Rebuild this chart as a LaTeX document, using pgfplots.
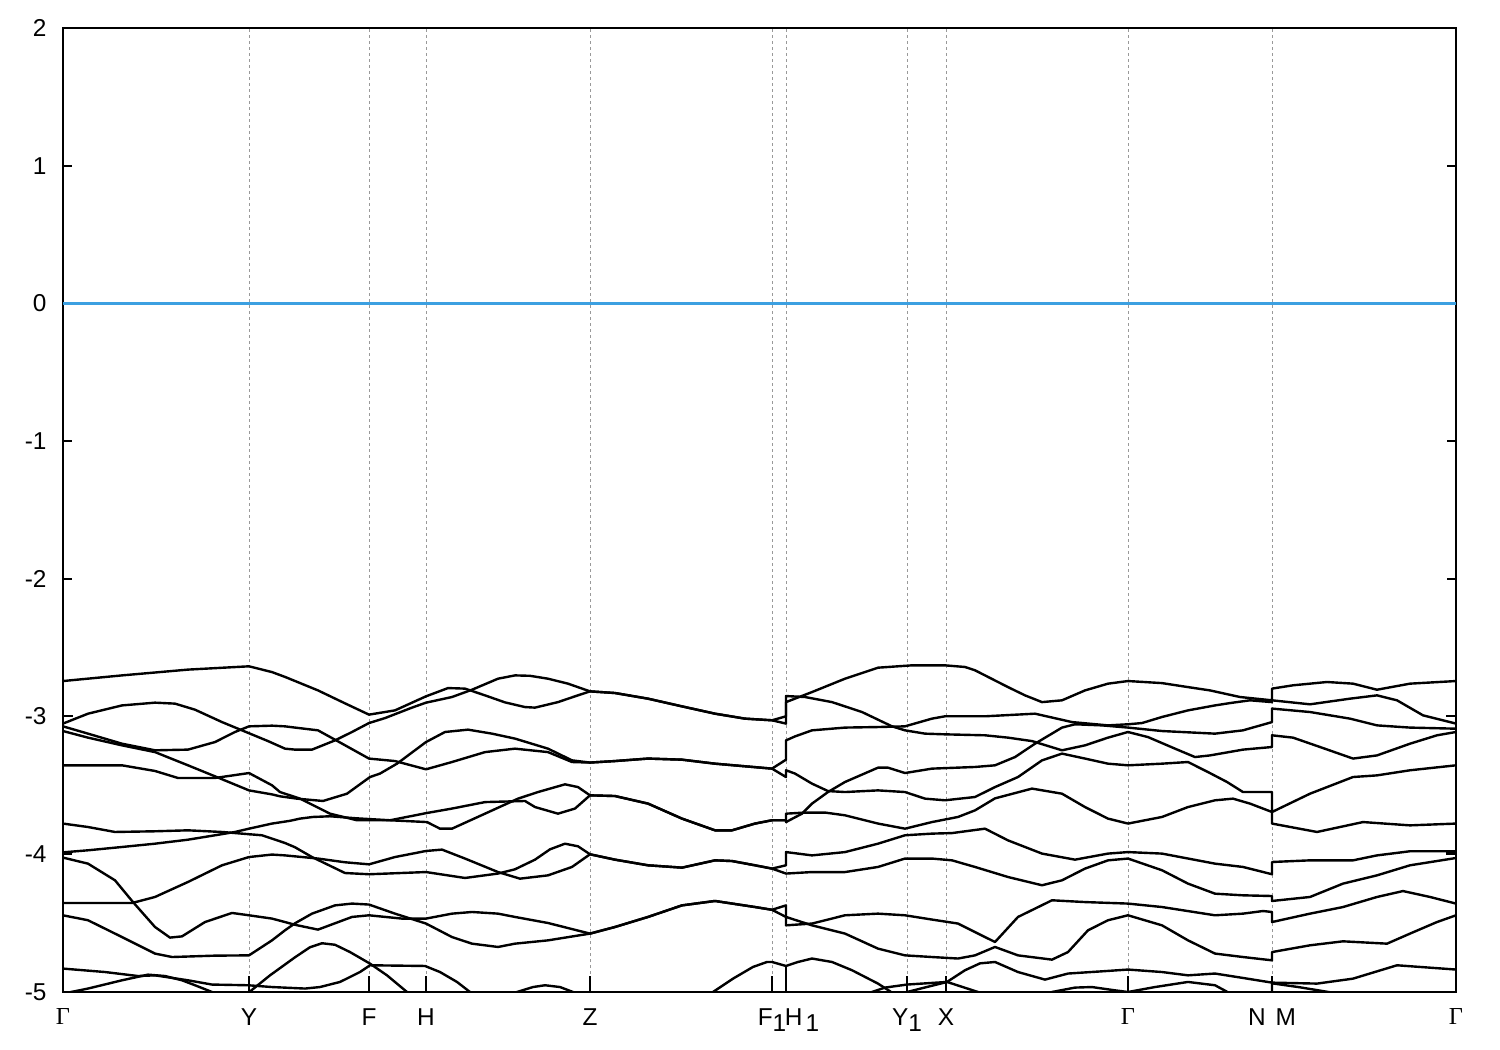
\documentclass[border=0pt]{standalone}
\usepackage{pgfplots}
\pgfplotsset{compat=1.18}
\usepackage{fontspec}
\setmainfont{Liberation Sans}
\newfontfamily\gsym{Liberation Serif}
\definecolor{efermi}{RGB}{60,160,225}
\newcommand{\sub}[1]{\raisebox{-3pt}{#1}}
\begin{document}
\fontsize{12.2}{14}\selectfont
\begin{tikzpicture}
\begin{axis}[
  scale only axis, width=696.5pt, height=482pt,
  xmin=0, xmax=1393, ymin=-5, ymax=2,
  axis line style={line width=1pt},
  xtick={0,186,306,363,527,709,723,844,883,1065,1209,1393},
  xticklabels={{\gsym Γ},Y,F,H,Z,F\sub{1},\hspace*{16pt}H\hspace{1.5pt}\sub{1},Y\sub{1},X,{\gsym Γ},N\hspace{5pt}M,{\gsym Γ}},
  ytick={-5,-4,-3,-2,-1,0,1,2},
  yticklabels={-5,-4,-3,-2,-1,0,1,2},
  xtick pos=left,
  xmajorgrids,
  grid style={dash pattern=on 1.5pt off 1.5pt, black!40, line width=0.4pt},
  tick style={black, line width=0.8pt},
  xtick style={/pgfplots/major tick length=8pt},
  ytick style={/pgfplots/major tick length=4.5pt},
  xticklabel style={yshift=-4pt},
  yticklabel style={xshift=-4pt},
  band/.style={black, line width=1.2pt, line join=round, mark=none},
  clip=true,
]
\coordinate (SW) at (rel axis cs:0,0);
\addplot[color=efermi, line width=1.1pt, mark=none] coordinates {(0,0) (1393,0)};
% curve 1
\addplot[band] coordinates {(0,-2.742)(59,-2.701)(125,-2.659)(186,-2.635)(209,-2.677)(222,-2.712)(255,-2.810)(282,-2.904)(306,-2.986)(332,-2.955)(363,-2.853)(385,-2.793)(402,-2.797)(422,-2.846)(442,-2.897)(462,-2.931)(472,-2.935)(495,-2.895)(512,-2.853)(527,-2.817)(552,-2.829)(585,-2.870)(619,-2.926)(652,-2.979)(682,-3.015)(709,-3.027)(723,-2.998)(723,-2.851)(742,-2.858)(769,-2.895)(799,-2.967)(829,-3.071)(842,-3.100)(862,-3.124)(882,-3.129)(922,-3.136)(945,-3.153)(969,-3.178)(999,-3.245)(1022,-3.209)(1045,-3.153)(1065,-3.112)(1085,-3.149)(1112,-3.233)(1132,-3.294)(1147,-3.282)(1180,-3.240)(1209,-3.221)(1209,-3.136)(1230,-3.153)(1257,-3.221)(1290,-3.305)(1314,-3.282)(1347,-3.197)(1374,-3.136)(1393,-3.112)};
% curve 2
\addplot[band] coordinates {(0,-3.051)(25,-2.979)(59,-2.919)(92,-2.899)(112,-2.906)(132,-2.950)(159,-3.040)(179,-3.100)(205,-3.178)(222,-3.233)(232,-3.240)(249,-3.240)(272,-3.173)(289,-3.112)(306,-3.047)(322,-3.011)(349,-2.935)(363,-2.899)(389,-2.858)(409,-2.805)(435,-2.725)(452,-2.701)(467,-2.704)(485,-2.725)(505,-2.761)(527,-2.817)(552,-2.829)(585,-2.870)(619,-2.926)(652,-2.979)(682,-3.015)(709,-3.027)(723,-3.051)(723,-2.895)(749,-2.822)(782,-2.725)(815,-2.645)(849,-2.628)(882,-2.628)(902,-2.640)(912,-2.664)(945,-2.786)(962,-2.846)(979,-2.895)(999,-2.882)(1022,-2.810)(1045,-2.761)(1065,-2.742)(1099,-2.757)(1125,-2.786)(1147,-2.810)(1177,-2.858)(1209,-2.882)(1209,-2.797)(1230,-2.773)(1264,-2.749)(1290,-2.761)(1314,-2.805)(1347,-2.761)(1393,-2.742)};
% curve 3
\addplot[band] coordinates {(0,-3.071)(25,-3.124)(59,-3.197)(92,-3.245)(125,-3.240)(152,-3.185)(172,-3.112)(186,-3.071)(209,-3.066)(222,-3.071)(232,-3.080)(255,-3.100)(272,-3.168)(306,-3.305)(332,-3.323)(363,-3.383)(389,-3.330)(422,-3.258)(452,-3.233)(485,-3.258)(509,-3.330)(527,-3.334)(552,-3.323)(585,-3.305)(619,-3.313)(652,-3.342)(682,-3.361)(709,-3.378)(723,-3.313)(723,-3.173)(732,-3.144)(749,-3.100)(782,-3.080)(815,-3.076)(842,-3.071)(869,-3.015)(882,-2.998)(922,-2.998)(972,-2.979)(1009,-3.040)(1045,-3.064)(1065,-3.056)(1079,-3.047)(1099,-3.003)(1125,-2.955)(1152,-2.919)(1167,-2.902)(1187,-2.882)(1209,-2.895)(1209,-2.882)(1247,-2.911)(1287,-2.870)(1314,-2.846)(1334,-2.882)(1360,-2.991)(1393,-3.051)};
% curve 4
\addplot[band] coordinates {(0,-3.105)(25,-3.153)(59,-3.209)(92,-3.258)(125,-3.354)(152,-3.434)(186,-3.536)(209,-3.565)(217,-3.579)(234,-3.596)(260,-3.613)(284,-3.560)(307,-3.439)(317,-3.414)(334,-3.342)(363,-3.185)(382,-3.112)(405,-3.095)(429,-3.124)(452,-3.160)(485,-3.233)(509,-3.318)(527,-3.334)(552,-3.323)(585,-3.305)(619,-3.313)(652,-3.342)(682,-3.361)(709,-3.378)(723,-3.439)(723,-3.390)(732,-3.414)(749,-3.487)(765,-3.541)(782,-3.548)(815,-3.536)(842,-3.548)(862,-3.596)(882,-3.608)(912,-3.584)(932,-3.512)(955,-3.439)(979,-3.318)(999,-3.269)(1022,-3.305)(1045,-3.342)(1065,-3.354)(1099,-3.342)(1125,-3.330)(1145,-3.403)(1164,-3.475)(1180,-3.548)(1209,-3.548)(1209,-3.693)(1247,-3.560)(1290,-3.439)(1314,-3.427)(1347,-3.390)(1393,-3.354)};
% curve 5
\addplot[band] coordinates {(0,-3.354)(59,-3.354)(92,-3.395)(115,-3.446)(152,-3.446)(186,-3.410)(209,-3.499)(217,-3.548)(237,-3.596)(267,-3.705)(294,-3.753)(327,-3.753)(364,-3.766)(377,-3.814)(389,-3.814)(422,-3.705)(455,-3.596)(475,-3.548)(502,-3.492)(515,-3.512)(527,-3.572)(552,-3.577)(585,-3.632)(619,-3.741)(652,-3.826)(669,-3.826)(692,-3.777)(709,-3.753)(723,-3.753)(723,-3.766)(739,-3.705)(749,-3.632)(765,-3.548)(782,-3.475)(815,-3.371)(825,-3.371)(842,-3.410)(869,-3.378)(912,-3.366)(932,-3.354)(952,-3.294)(972,-3.197)(999,-3.080)(1012,-3.056)(1039,-3.064)(1065,-3.080)(1099,-3.105)(1152,-3.124)(1180,-3.100)(1209,-3.040)(1209,-2.942)(1247,-2.967)(1287,-3.015)(1314,-3.064)(1347,-3.080)(1393,-3.088)};
% curve 6
\addplot[band] coordinates {(0,-3.986)(25,-3.971)(59,-3.947)(92,-3.923)(125,-3.894)(152,-3.862)(172,-3.838)(186,-3.814)(209,-3.777)(227,-3.757)(237,-3.741)(250,-3.729)(267,-3.724)(294,-3.739)(327,-3.753)(364,-3.700)(389,-3.668)(422,-3.621)(462,-3.613)(472,-3.657)(495,-3.705)(512,-3.668)(527,-3.572)(552,-3.577)(585,-3.632)(619,-3.741)(652,-3.826)(669,-3.826)(692,-3.777)(709,-3.753)(723,-3.753)(723,-3.705)(742,-3.697)(762,-3.697)(782,-3.717)(815,-3.777)(842,-3.814)(869,-3.766)(895,-3.729)(912,-3.681)(932,-3.594)(969,-3.523)(999,-3.560)(1022,-3.657)(1045,-3.741)(1065,-3.777)(1099,-3.729)(1125,-3.657)(1152,-3.608)(1170,-3.596)(1187,-3.632)(1209,-3.693)(1209,-3.777)(1254,-3.838)(1300,-3.766)(1347,-3.790)(1393,-3.777)};
% curve 7
\addplot[band] coordinates {(0,-3.777)(25,-3.802)(52,-3.838)(92,-3.833)(125,-3.826)(159,-3.838)(179,-3.850)(199,-3.862)(222,-3.918)(232,-3.949)(249,-4.020)(282,-4.136)(306,-4.145)(363,-4.129)(402,-4.172)(435,-4.140)(452,-4.109)(472,-4.039)(487,-3.964)(502,-3.923)(515,-3.942)(527,-4.000)(552,-4.039)(585,-4.080)(619,-4.097)(652,-4.044)(669,-4.049)(692,-4.080)(709,-4.104)(723,-4.080)(723,-3.984)(749,-4.008)(782,-3.984)(815,-3.923)(842,-3.862)(869,-3.850)(889,-3.846)(922,-3.814)(945,-3.899)(979,-3.995)(1012,-4.039)(1045,-3.995)(1065,-3.984)(1099,-3.995)(1152,-4.068)(1180,-4.092)(1209,-4.145)(1209,-4.056)(1247,-4.044)(1290,-4.044)(1314,-4.008)(1347,-3.978)(1393,-3.978)};
% curve 8
\addplot[band] coordinates {(0,-4.354)(69,-4.354)(92,-4.310)(125,-4.201)(159,-4.080)(186,-4.020)(209,-4.002)(222,-4.008)(255,-4.031)(282,-4.058)(306,-4.073)(332,-4.020)(363,-3.976)(379,-3.966)(402,-4.031)(435,-4.129)(457,-4.177)(485,-4.153)(509,-4.092)(527,-4.000)(552,-4.039)(585,-4.080)(619,-4.097)(652,-4.044)(669,-4.049)(692,-4.080)(709,-4.104)(723,-4.140)(749,-4.129)(782,-4.129)(815,-4.092)(842,-4.031)(869,-4.031)(889,-4.044)(912,-4.092)(945,-4.165)(979,-4.225)(999,-4.189)(1022,-4.104)(1045,-4.044)(1065,-4.031)(1099,-4.116)(1125,-4.213)(1152,-4.286)(1180,-4.298)(1209,-4.303)(1209,-4.339)(1247,-4.310)(1280,-4.213)(1314,-4.153)(1347,-4.080)(1393,-4.027)};
% curve 9
\addplot[band] coordinates {(0,-4.024)(25,-4.068)(52,-4.189)(70,-4.347)(92,-4.528)(107,-4.605)(119,-4.596)(142,-4.492)(169,-4.426)(186,-4.443)(209,-4.467)(222,-4.492)(232,-4.512)(255,-4.547)(289,-4.455)(306,-4.443)(339,-4.467)(363,-4.467)(389,-4.431)(409,-4.419)(435,-4.431)(452,-4.455)(485,-4.499)(527,-4.576)(552,-4.528)(585,-4.455)(619,-4.371)(652,-4.339)(692,-4.383)(709,-4.403)(723,-4.371)(723,-4.455)(749,-4.516)(782,-4.576)(815,-4.685)(842,-4.734)(869,-4.746)(895,-4.757)(912,-4.734)(932,-4.673)(955,-4.734)(989,-4.765)(1005,-4.710)(1025,-4.552)(1045,-4.479)(1065,-4.443)(1099,-4.516)(1125,-4.625)(1152,-4.721)(1180,-4.746)(1209,-4.770)(1209,-4.710)(1247,-4.661)(1280,-4.632)(1324,-4.649)(1347,-4.576)(1374,-4.492)(1393,-4.443)};
% curve 10
\addplot[band] coordinates {(0,-4.443)(25,-4.479)(59,-4.601)(92,-4.721)(109,-4.746)(152,-4.736)(186,-4.734)(209,-4.625)(222,-4.552)(232,-4.501)(249,-4.431)(272,-4.371)(289,-4.358)(306,-4.365)(332,-4.431)(363,-4.503)(389,-4.601)(409,-4.649)(435,-4.673)(452,-4.649)(485,-4.625)(527,-4.576)(552,-4.528)(585,-4.455)(619,-4.371)(652,-4.339)(692,-4.383)(709,-4.403)(723,-4.455)(723,-4.516)(749,-4.503)(782,-4.443)(815,-4.431)(842,-4.443)(869,-4.474)(895,-4.503)(922,-4.601)(932,-4.637)(955,-4.455)(989,-4.334)(1022,-4.347)(1065,-4.358)(1099,-4.383)(1152,-4.443)(1180,-4.431)(1200,-4.412)(1209,-4.419)(1209,-4.492)(1247,-4.431)(1280,-4.383)(1314,-4.310)(1340,-4.267)(1367,-4.310)(1393,-4.358)};
% lower bands
\addplot[band] coordinates {(0,-4.830)(42,-4.855)(75,-4.884)(92,-4.879)(125,-4.915)(149,-4.946)(185,-4.951)(209,-4.964)(242,-4.975)(257,-4.964)(277,-4.927)(297,-4.855)(307,-4.806)(362,-4.811)(377,-4.855)(394,-4.927)(407,-5.000)(415,-5.060)};
\addplot[band] coordinates {(177,-5.060)(186,-5.002)(207,-4.879)(232,-4.748)(247,-4.675)(259,-4.646)(272,-4.657)(287,-4.710)(307,-4.794)(324,-4.879)(344,-5.000)(352,-5.060)};
\addplot[band] coordinates {(0,-5.012)(25,-4.975)(59,-4.915)(85,-4.874)(102,-4.884)(119,-4.915)(132,-4.951)(149,-5.000)(160,-5.060)};
\addplot[band] coordinates {(447,-5.060)(454,-5.000)(470,-4.964)(482,-4.951)(497,-4.964)(510,-5.000)(517,-5.060)};
\addplot[band] coordinates {(642,-5.060)(650,-5.000)(670,-4.903)(690,-4.818)(704,-4.782)(709,-4.782)(723,-4.811)(735,-4.782)(749,-4.757)(769,-4.782)(789,-4.842)(815,-4.939)(830,-5.009)(837,-5.060)};
\addplot[band] coordinates {(723,-5.060)(723,-4.811)};
\addplot[band] coordinates {(797,-5.060)(809,-5.000)(822,-4.968)(844,-4.946)(884,-4.927)(902,-4.842)(917,-4.792)(932,-4.782)(955,-4.855)(982,-4.910)(1005,-4.866)(1045,-4.847)(1065,-4.837)(1099,-4.855)(1125,-4.879)(1152,-4.866)(1180,-4.898)(1209,-4.932)(1254,-4.939)(1290,-4.903)(1334,-4.806)(1393,-4.837)};
\addplot[band] coordinates {(837,-5.060)(844,-5.000)(884,-4.927)(915,-5.000)(922,-5.060)};
\addplot[band] coordinates {(982,-5.060)(989,-5.000)(1012,-4.968)(1029,-4.964)(1052,-4.988)(1065,-5.000)(1092,-4.964)(1125,-4.927)(1152,-4.951)(1165,-5.002)(1172,-5.060)};
\addplot[band] coordinates {(1209,-5.060)(1209,-4.937)(1237,-4.966)(1267,-5.002)(1287,-5.060)};
% short stubs at the path ends
\addplot[band] coordinates {(0,-2.998)(10,-2.998)};
\addplot[band] coordinates {(0,-3.986)(9,-3.995)};
\addplot[band] coordinates {(1383,-2.998)(1393,-2.998)};
\addplot[band] coordinates {(1383,-3.995)(1393,-3.995)};
\end{axis}
\pgfresetboundingbox
\path (SW) ++(-31.5pt,-29pt) rectangle ++(750pt,525pt);
\end{tikzpicture}
\end{document}
